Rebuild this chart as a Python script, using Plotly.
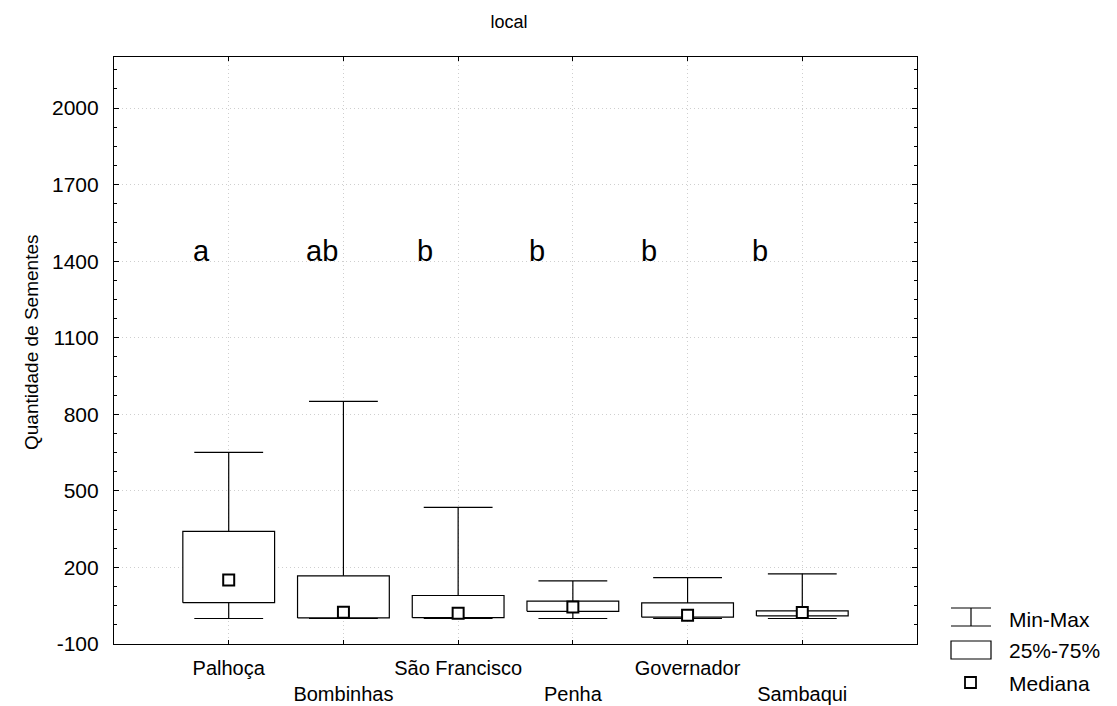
import plotly.graph_objects as go

# ---- data ----
categories = ["Palhoça", "Bombinhas", "São Francisco", "Penha", "Governador", "Sambaqui"]
minimum = [0, 0, 0, 0, 0, 0]
q1 = [62, 2, 3, 28, 5, 10]
median = [151, 24, 20, 45, 13, 23]
q3 = [341, 167, 90, 68, 61, 30]
maximum = [651, 851, 435, 147, 160, 175]
letters = ["a", "ab", "b", "b", "b", "b"]
letter_x = [0.76, 1.81, 2.71, 3.69, 4.66, 5.63]
letter_y = 1440
y_ticks = [-100, 200, 500, 800, 1100, 1400, 1700, 2000]
y_ticktext = ["-100", "200", "500", "800", "1100", "1400", "1700", "2000"]

FONT = "Arial, Liberation Sans, sans-serif"
positions = list(range(1, len(categories) + 1))
ticktext = [c if i % 2 == 0 else "<br>" + c for i, c in enumerate(categories)]

fig = go.Figure()

# whiskers and caps
wx, wy = [], []
cap = 0.3
half = 0.4
for p, lo, hi in zip(positions, minimum, maximum):
    wx += [p, p, None, p - cap, p + cap, None, p - cap, p + cap, None]
    wy += [lo, hi, None, lo, lo, None, hi, hi, None]
fig.add_trace(go.Scatter(x=wx, y=wy, mode="lines", line=dict(color="black", width=1.2),
                         hoverinfo="skip", showlegend=False))

# boxes
for p, a, b in zip(positions, q1, q3):
    fig.add_trace(go.Scatter(x=[p - half, p + half, p + half, p - half, p - half],
                             y=[a, a, b, b, a], mode="lines", fill="toself",
                             fillcolor="white", line=dict(color="black", width=1.2),
                             hoverinfo="skip", showlegend=False))

# medians
fig.add_trace(go.Scatter(x=positions, y=median, mode="markers",
                         marker=dict(symbol="square", size=11, color="white",
                                     line=dict(color="black", width=2)),
                         showlegend=False))

# letters
for lx, t in zip(letter_x, letters):
    fig.add_annotation(x=lx, y=letter_y, text=t, showarrow=False, xanchor="center",
                       yanchor="middle", font=dict(size=29, color="black", family=FONT))

# ---- layout geometry (page pixels; page body has an 8px offset) ----
OFF = 8
W, H = 1109, 698
L, R, T, B = 114 - OFF, 917 - OFF, 57 - OFF, 644 - OFF

def px(x):
    return (x - OFF - L) / (R - L)

def py(y):
    return (B - (y - OFF)) / (B - T)

shp = dict(xref="paper", yref="paper", line=dict(color="black", width=1.2))
# Min-Max icon
fig.add_shape(type="line", x0=px(951), x1=px(991), y0=py(608), y1=py(608), **shp)
fig.add_shape(type="line", x0=px(951), x1=px(991), y0=py(626), y1=py(626), **shp)
fig.add_shape(type="line", x0=px(971), x1=px(971), y0=py(608), y1=py(626), **shp)
# box icon
fig.add_shape(type="rect", x0=px(951), x1=px(991), y0=py(641), y1=py(659), **shp)
# median icon
fig.add_shape(type="rect", x0=px(965), x1=px(976), y0=py(677), y1=py(688),
              xref="paper", yref="paper", line=dict(color="black", width=1.8))
for txt, yy in [("Min-Max", 619), ("25%-75%", 651), ("Mediana", 683)]:
    fig.add_annotation(xref="paper", yref="paper", x=px(1007), y=py(yy), text=txt,
                       showarrow=False, xanchor="left", yanchor="middle",
                       font=dict(size=21, color="black", family=FONT))

# y axis title
fig.add_annotation(xref="paper", yref="paper", x=px(31), y=py(342), text="Quantidade de Sementes",
                   textangle=-90, showarrow=False, xanchor="center", yanchor="middle",
                   font=dict(size=19, color="black", family=FONT))

fig.update_layout(
    width=W, height=H,
    margin=dict(l=L, r=W - R, t=T, b=H - B, autoexpand=False),
    paper_bgcolor="white", plot_bgcolor="white",
    font=dict(family=FONT, color="black", size=20),
    title=dict(text="local", x=(509 - OFF) / W, xanchor="center", y=1 - (22 - OFF) / H,
               yanchor="middle", font=dict(size=18, family=FONT, color="black")),
    showlegend=False,
)
fig.update_xaxes(
    range=[0, 7], tickvals=positions, ticktext=ticktext, tickangle=0, automargin=False,
    showline=True, linecolor="black", linewidth=1.2, mirror="allticks",
    ticks="inside", ticklen=4, tickcolor="black",
    showgrid=True, gridcolor="#cfcfcf", griddash="1px,3px", gridwidth=1,
    zeroline=False, tickfont=dict(size=20, family=FONT, color="black"),
    ticklabelstandoff=6,
)
fig.update_yaxes(
    range=[-100, 2200], tickvals=y_ticks, ticktext=y_ticktext, automargin=False,
    showline=True, linecolor="black", linewidth=1.2, mirror="allticks",
    ticks="inside", ticklen=5, tickcolor="black",
    minor=dict(dtick=75, tick0=-100, ticks="inside", ticklen=3, tickcolor="black", showgrid=False),
    showgrid=True, gridcolor="#cfcfcf", griddash="1px,3px", gridwidth=1,
    zeroline=False, tickfont=dict(size=21, family=FONT, color="black"),
    ticklabelstandoff=10,
)

fig.write_html("out.html")
